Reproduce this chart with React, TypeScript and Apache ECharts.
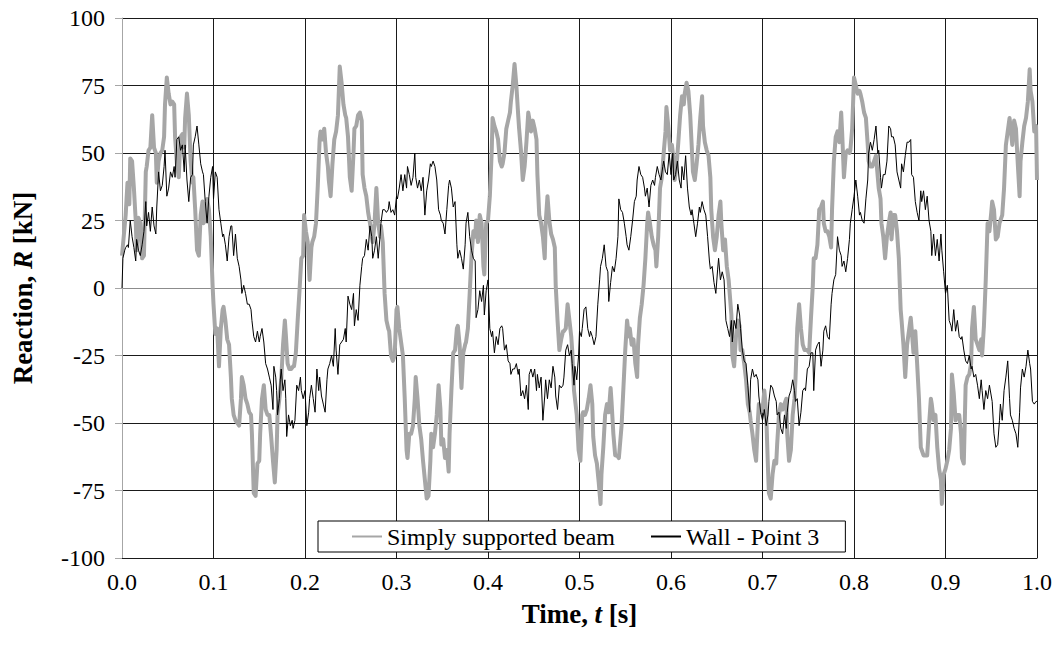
import React, { useEffect, useRef } from "react";
import * as echarts from "echarts";

const seriesNames = ["Simply supported beam", "Wall - Point 3"];
const xTicks = { min: 0, max: 1, interval: 0.1 };
const yTicks = { min: -100, max: 100, interval: 25 };

// Simply supported beam: [time (s), reaction (kN)]
const beamData: [number, number][] = [
  [0.000,12],[0.004,27],[0.006,39],[0.008,31],[0.009,48],[0.011,47],[0.013,37],[0.015,25],[0.016,14],[0.018,26],
  [0.020,24],[0.022,11],[0.024,12],[0.026,43],[0.027,45],[0.029,51],[0.031,52],[0.033,64],[0.035,52],[0.037,50],
  [0.038,39],[0.040,47],[0.042,50],[0.044,51],[0.046,56],[0.047,68],[0.049,78],[0.051,72],[0.053,68],[0.055,69],
  [0.057,68],[0.058,56],[0.060,46],[0.062,41],[0.064,56],[0.066,57],[0.068,52],[0.069,63],[0.071,72],[0.073,64],
  [0.075,47],[0.077,39],[0.078,41],[0.080,29],[0.082,14],[0.084,12],[0.086,27],[0.088,32],[0.089,24],[0.091,25],
  [0.093,33],[0.095,29],[0.097,19],[0.099,1],[0.100,-6],[0.102,-17],[0.104,-15],[0.106,-29],[0.108,-15],[0.110,-8],
  [0.111,-7],[0.113,-12],[0.115,-19],[0.117,-21],[0.119,-33],[0.120,-41],[0.122,-47],[0.124,-49],[0.126,-50],[0.128,-51],
  [0.130,-41],[0.131,-33],[0.133,-36],[0.135,-41],[0.137,-43],[0.139,-46],[0.141,-47],[0.142,-54],[0.144,-76],[0.146,-77],
  [0.148,-65],[0.150,-64],[0.151,-54],[0.153,-41],[0.155,-36],[0.157,-45],[0.159,-47],[0.161,-47],[0.163,-55],[0.165,-64],
  [0.167,-72],[0.169,-60],[0.170,-47],[0.172,-41],[0.174,-34],[0.176,-21],[0.178,-12],[0.179,-17],[0.181,-28],[0.183,-30],
  [0.185,-30],[0.187,-29],[0.188,-29],[0.190,-24],[0.192,-12],[0.194,-1],[0.196,11],[0.198,12],[0.199,27],[0.201,21],
  [0.203,17],[0.205,3],[0.207,15],[0.208,17],[0.210,19],[0.212,24],[0.214,38],[0.216,55],[0.217,58],[0.219,55],
  [0.221,59],[0.223,50],[0.225,45],[0.226,40],[0.228,34],[0.230,46],[0.232,55],[0.234,58],[0.236,64],[0.237,73],
  [0.238,82],[0.240,76],[0.242,68],[0.244,64],[0.245,63],[0.247,56],[0.249,41],[0.251,36],[0.253,50],[0.254,59],
  [0.256,60],[0.258,64],[0.260,65],[0.262,62],[0.263,42],[0.265,37],[0.267,34],[0.269,28],[0.271,24],[0.273,19],
  [0.274,17],[0.276,24],[0.278,37],[0.280,24],[0.282,19],[0.283,23],[0.285,17],[0.287,-2],[0.289,-12],[0.291,-15],
  [0.292,-16],[0.294,-25],[0.296,-27],[0.298,-25],[0.300,-8],[0.301,-7],[0.303,-15],[0.305,-20],[0.307,-25],[0.309,-41],
  [0.311,-60],[0.312,-63],[0.314,-54],[0.316,-54],[0.318,-51],[0.320,-41],[0.321,-33],[0.323,-41],[0.325,-51],[0.327,-56],
  [0.329,-64],[0.331,-71],[0.333,-78],[0.335,-77],[0.337,-64],[0.338,-54],[0.340,-59],[0.342,-54],[0.344,-47],[0.346,-36],
  [0.348,-45],[0.349,-58],[0.351,-56],[0.353,-63],[0.355,-60],[0.357,-68],[0.358,-54],[0.360,-38],[0.362,-24],[0.364,-23],
  [0.366,-15],[0.367,-14],[0.369,-21],[0.371,-37],[0.373,-24],[0.375,-21],[0.376,-20],[0.378,-15],[0.380,-2],[0.382,12],
  [0.384,21],[0.386,19],[0.387,25],[0.389,17],[0.391,27],[0.393,24],[0.395,8],[0.396,5],[0.398,24],[0.400,25],
  [0.402,34],[0.404,50],[0.405,63],[0.407,60],[0.409,58],[0.411,55],[0.413,47],[0.415,45],[0.416,46],[0.418,50],
  [0.420,59],[0.422,62],[0.424,65],[0.425,69],[0.427,75],[0.429,83],[0.431,75],[0.433,64],[0.434,59],[0.436,51],
  [0.438,40],[0.440,45],[0.442,54],[0.444,65],[0.445,63],[0.447,58],[0.449,62],[0.451,59],[0.453,55],[0.454,42],
  [0.456,27],[0.458,24],[0.460,19],[0.462,11],[0.463,24],[0.465,34],[0.467,25],[0.469,20],[0.471,18],[0.473,15],
  [0.474,1],[0.476,-12],[0.478,-23],[0.480,-19],[0.482,-16],[0.483,-16],[0.485,-15],[0.487,-6],[0.489,-12],[0.491,-18],
  [0.492,-23],[0.494,-38],[0.497,-47],[0.499,-60],[0.501,-64],[0.503,-47],[0.504,-46],[0.506,-47],[0.508,-45],[0.510,-41],
  [0.512,-36],[0.514,-43],[0.515,-55],[0.517,-62],[0.519,-65],[0.521,-72],[0.523,-80],[0.524,-69],[0.526,-59],[0.528,-47],
  [0.530,-43],[0.532,-46],[0.534,-37],[0.535,-42],[0.537,-54],[0.539,-62],[0.541,-62],[0.543,-63],[0.544,-59],[0.546,-51],
  [0.548,-37],[0.550,-23],[0.552,-12],[0.554,-18],[0.555,-15],[0.557,-21],[0.559,-19],[0.561,-28],[0.563,-33],[0.564,-21],
  [0.566,-11],[0.568,-6],[0.570,1],[0.572,11],[0.574,24],[0.575,28],[0.577,24],[0.579,19],[0.581,16],[0.583,14],
  [0.584,8],[0.586,19],[0.588,37],[0.590,41],[0.592,50],[0.594,58],[0.595,67],[0.597,60],[0.599,51],[0.601,53],
  [0.603,47],[0.604,40],[0.606,45],[0.608,54],[0.610,64],[0.612,71],[0.614,68],[0.615,72],[0.617,76],[0.619,73],
  [0.621,64],[0.623,50],[0.624,43],[0.626,40],[0.628,46],[0.630,53],[0.632,63],[0.634,71],[0.635,60],[0.637,54],
  [0.639,51],[0.641,49],[0.643,41],[0.644,29],[0.646,19],[0.648,14],[0.650,19],[0.652,27],[0.654,32],[0.655,24],
  [0.657,14],[0.659,18],[0.661,8],[0.663,3],[0.666,-10],[0.667,-25],[0.669,-29],[0.671,-18],[0.673,-12],[0.675,-14],
  [0.676,-23],[0.678,-23],[0.680,-28],[0.682,-34],[0.684,-43],[0.686,-46],[0.687,-49],[0.689,-54],[0.691,-60],[0.693,-64],
  [0.695,-49],[0.696,-43],[0.698,-46],[0.700,-45],[0.702,-38],[0.704,-46],[0.706,-67],[0.707,-76],[0.709,-78],[0.711,-69],
  [0.713,-64],[0.715,-65],[0.716,-58],[0.718,-47],[0.720,-43],[0.722,-45],[0.724,-43],[0.726,-41],[0.727,-54],[0.729,-64],
  [0.731,-60],[0.733,-47],[0.735,-41],[0.736,-34],[0.738,-15],[0.740,-6],[0.742,-15],[0.744,-21],[0.746,-23],[0.747,-23],
  [0.749,-23],[0.751,-24],[0.753,-11],[0.755,1],[0.756,11],[0.758,11],[0.760,16],[0.762,29],[0.764,30],[0.766,32],
  [0.767,24],[0.769,21],[0.771,21],[0.773,19],[0.775,15],[0.776,29],[0.778,47],[0.780,56],[0.782,58],[0.784,54],
  [0.786,65],[0.787,58],[0.789,41],[0.791,50],[0.793,51],[0.795,50],[0.796,51],[0.798,59],[0.800,78],[0.802,75],
  [0.804,72],[0.806,73],[0.807,72],[0.809,69],[0.811,65],[0.813,63],[0.815,53],[0.816,47],[0.818,45],[0.820,45],
  [0.822,47],[0.824,49],[0.825,45],[0.827,37],[0.829,33],[0.830,24],[0.832,19],[0.834,11],[0.836,19],[0.838,24],
  [0.840,28],[0.841,18],[0.843,27],[0.845,27],[0.847,21],[0.849,11],[0.851,-8],[0.852,-12],[0.854,-21],[0.856,-33],
  [0.858,-21],[0.860,-16],[0.862,-11],[0.863,-15],[0.865,-24],[0.867,-16],[0.869,-28],[0.871,-41],[0.873,-59],[0.874,-60],
  [0.876,-62],[0.878,-62],[0.880,-62],[0.882,-51],[0.884,-41],[0.885,-43],[0.887,-49],[0.889,-47],[0.891,-59],[0.893,-67],
  [0.895,-71],[0.896,-80],[0.898,-69],[0.900,-67],[0.902,-64],[0.904,-60],[0.906,-52],[0.907,-32],[0.909,-39],[0.911,-49],
  [0.913,-47],[0.915,-47],[0.917,-54],[0.918,-63],[0.920,-65],[0.922,-36],[0.924,-33],[0.926,-32],[0.928,-28],[0.929,-15],
  [0.931,-7],[0.933,-19],[0.935,-21],[0.937,-23],[0.939,-19],[0.940,-25],[0.942,-14],[0.944,3],[0.946,24],[0.948,21],
  [0.950,28],[0.951,32],[0.953,29],[0.955,18],[0.957,19],[0.959,24],[0.960,25],[0.962,27],[0.964,37],[0.966,53],
  [0.968,58],[0.970,63],[0.971,60],[0.973,53],[0.975,62],[0.977,59],[0.979,46],[0.981,34],[0.982,47],[0.984,54],
  [0.986,60],[0.988,63],[0.990,69],[0.992,81],[0.993,73],[0.995,69],[0.997,58],[0.999,60],[1.000,40],
];

// Wall - Point 3: [time (s), reaction (kN)]
const wallData: [number, number][] = [
  [0.000,0],[0.001,11],[0.003,14],[0.004,15],[0.006,16],[0.007,15],[0.009,25],[0.011,19],[0.013,15],[0.015,10],
  [0.016,18],[0.018,14],[0.020,12],[0.022,16],[0.024,21],[0.026,32],[0.027,23],[0.029,28],[0.031,21],[0.033,30],
  [0.035,23],[0.037,20],[0.038,30],[0.040,43],[0.042,36],[0.044,38],[0.046,45],[0.047,51],[0.049,34],[0.051,37],
  [0.053,43],[0.055,41],[0.057,45],[0.058,41],[0.060,55],[0.062,56],[0.064,51],[0.066,53],[0.068,43],[0.069,53],
  [0.071,40],[0.073,32],[0.075,41],[0.077,42],[0.078,53],[0.080,56],[0.082,60],[0.084,53],[0.086,46],[0.088,43],
  [0.089,42],[0.091,32],[0.093,24],[0.095,34],[0.097,41],[0.099,45],[0.100,33],[0.102,43],[0.104,41],[0.106,29],
  [0.108,24],[0.110,19],[0.111,20],[0.113,16],[0.115,10],[0.117,19],[0.119,23],[0.120,23],[0.122,12],[0.124,20],
  [0.126,11],[0.128,8],[0.130,3],[0.131,-2],[0.133,1],[0.135,-2],[0.137,-6],[0.139,-6],[0.141,-8],[0.142,-12],
  [0.144,-18],[0.146,-20],[0.148,-16],[0.150,-20],[0.151,-18],[0.153,-15],[0.155,-20],[0.157,-28],[0.159,-30],[0.161,-33],
  [0.163,-36],[0.165,-45],[0.166,-29],[0.168,-33],[0.169,-38],[0.170,-47],[0.172,-41],[0.173,-34],[0.174,-30],[0.176,-38],
  [0.178,-34],[0.179,-41],[0.180,-55],[0.182,-47],[0.184,-51],[0.186,-49],[0.187,-52],[0.189,-49],[0.191,-36],[0.193,-38],
  [0.195,-33],[0.196,-38],[0.198,-41],[0.200,-38],[0.202,-51],[0.204,-46],[0.205,-41],[0.207,-36],[0.209,-41],[0.211,-46],
  [0.213,-30],[0.215,-38],[0.216,-33],[0.218,-40],[0.220,-43],[0.222,-46],[0.224,-34],[0.225,-30],[0.227,-28],[0.229,-25],
  [0.231,-29],[0.233,-15],[0.234,-23],[0.236,-32],[0.238,-21],[0.240,-20],[0.242,-19],[0.244,-15],[0.245,-20],[0.247,-3],
  [0.249,-6],[0.251,-8],[0.253,-2],[0.254,-14],[0.256,-8],[0.258,-12],[0.260,1],[0.262,8],[0.263,11],[0.265,12],
  [0.267,18],[0.269,14],[0.271,23],[0.273,19],[0.274,11],[0.276,14],[0.278,19],[0.280,11],[0.282,19],[0.283,24],
  [0.285,29],[0.287,29],[0.289,28],[0.291,29],[0.292,32],[0.294,28],[0.296,29],[0.298,27],[0.300,34],[0.301,33],
  [0.303,37],[0.305,42],[0.307,36],[0.309,42],[0.311,37],[0.312,45],[0.314,42],[0.316,38],[0.318,41],[0.320,50],
  [0.321,41],[0.323,37],[0.325,40],[0.327,36],[0.329,41],[0.331,27],[0.333,36],[0.335,40],[0.337,46],[0.338,45],
  [0.340,47],[0.342,45],[0.344,40],[0.346,29],[0.348,27],[0.349,25],[0.351,24],[0.353,20],[0.355,29],[0.357,38],
  [0.358,40],[0.360,37],[0.362,30],[0.364,32],[0.366,16],[0.367,11],[0.369,14],[0.371,11],[0.373,7],[0.375,16],
  [0.376,24],[0.378,28],[0.380,19],[0.382,14],[0.384,11],[0.386,10],[0.387,-11],[0.389,-8],[0.391,-1],[0.393,-5],
  [0.395,1],[0.396,-10],[0.398,-1],[0.400,3],[0.402,-15],[0.404,-18],[0.405,-16],[0.407,-24],[0.409,-18],[0.411,-21],
  [0.413,-15],[0.415,-14],[0.416,-15],[0.418,-23],[0.420,-21],[0.422,-27],[0.424,-28],[0.425,-32],[0.427,-30],[0.429,-30],
  [0.431,-28],[0.433,-32],[0.434,-30],[0.436,-40],[0.438,-38],[0.440,-41],[0.442,-36],[0.444,-45],[0.445,-32],[0.447,-30],
  [0.449,-33],[0.451,-30],[0.453,-38],[0.454,-32],[0.456,-37],[0.458,-33],[0.460,-49],[0.462,-40],[0.463,-34],[0.465,-41],
  [0.467,-34],[0.469,-37],[0.471,-29],[0.473,-33],[0.474,-40],[0.476,-45],[0.478,-36],[0.480,-37],[0.482,-36],[0.483,-33],
  [0.485,-23],[0.487,-21],[0.489,-25],[0.491,-23],[0.492,-28],[0.494,-36],[0.495,-29],[0.497,-34],[0.499,-25],[0.500,-16],
  [0.502,-18],[0.503,-15],[0.505,-8],[0.507,-7],[0.509,-15],[0.511,-18],[0.512,-16],[0.514,-18],[0.516,-21],[0.518,-18],
  [0.520,-6],[0.522,3],[0.523,8],[0.525,11],[0.527,16],[0.529,8],[0.531,6],[0.532,-5],[0.534,2],[0.536,8],
  [0.538,6],[0.540,11],[0.542,19],[0.543,33],[0.545,29],[0.547,28],[0.549,24],[0.551,19],[0.552,16],[0.554,14],
  [0.556,19],[0.558,25],[0.560,32],[0.562,34],[0.563,40],[0.565,45],[0.567,42],[0.569,41],[0.571,37],[0.572,34],
  [0.574,37],[0.576,30],[0.578,38],[0.580,40],[0.582,38],[0.583,41],[0.585,45],[0.587,42],[0.589,40],[0.591,45],
  [0.592,47],[0.594,43],[0.596,42],[0.598,50],[0.600,42],[0.602,50],[0.603,40],[0.605,42],[0.607,47],[0.609,40],
  [0.611,37],[0.612,45],[0.614,40],[0.616,49],[0.618,37],[0.620,30],[0.622,27],[0.623,29],[0.625,24],[0.627,19],
  [0.629,24],[0.631,30],[0.632,28],[0.634,32],[0.636,29],[0.638,27],[0.640,19],[0.642,10],[0.643,7],[0.645,8],
  [0.647,2],[0.649,-2],[0.651,7],[0.652,11],[0.654,3],[0.656,6],[0.658,3],[0.660,-12],[0.662,-15],[0.664,-18],
  [0.666,-12],[0.667,-20],[0.669,-12],[0.671,-15],[0.673,-6],[0.675,-10],[0.676,-15],[0.678,-23],[0.680,-27],[0.682,-28],
  [0.684,-36],[0.686,-46],[0.687,-34],[0.689,-30],[0.691,-33],[0.693,-32],[0.695,-34],[0.696,-40],[0.698,-46],[0.700,-49],
  [0.702,-45],[0.704,-51],[0.706,-47],[0.707,-42],[0.709,-36],[0.711,-37],[0.713,-40],[0.715,-42],[0.716,-47],[0.718,-46],
  [0.720,-52],[0.722,-54],[0.724,-47],[0.726,-52],[0.727,-46],[0.729,-40],[0.731,-38],[0.733,-34],[0.735,-38],[0.736,-42],
  [0.738,-41],[0.740,-51],[0.742,-46],[0.744,-38],[0.746,-37],[0.747,-38],[0.749,-30],[0.751,-29],[0.753,-24],[0.755,-24],
  [0.756,-38],[0.758,-23],[0.760,-21],[0.762,-20],[0.764,-29],[0.766,-23],[0.767,-16],[0.769,-14],[0.771,-18],[0.773,-19],
  [0.775,-6],[0.776,-2],[0.778,3],[0.780,5],[0.782,19],[0.784,14],[0.786,12],[0.787,8],[0.789,10],[0.791,6],
  [0.793,11],[0.795,18],[0.796,24],[0.798,29],[0.800,34],[0.802,40],[0.804,34],[0.806,27],[0.807,28],[0.809,25],
  [0.811,24],[0.813,33],[0.815,40],[0.816,50],[0.818,54],[0.820,51],[0.822,55],[0.824,60],[0.826,50],[0.827,51],
  [0.829,41],[0.830,37],[0.832,42],[0.834,42],[0.836,47],[0.838,60],[0.840,59],[0.841,56],[0.843,56],[0.845,53],
  [0.847,43],[0.849,40],[0.851,37],[0.852,46],[0.854,43],[0.856,49],[0.858,54],[0.860,54],[0.862,55],[0.863,42],
  [0.865,41],[0.867,32],[0.869,28],[0.871,25],[0.873,36],[0.874,32],[0.876,36],[0.878,29],[0.880,34],[0.882,25],
  [0.884,21],[0.885,12],[0.887,20],[0.889,12],[0.891,18],[0.893,10],[0.895,20],[0.896,14],[0.898,6],[0.900,-2],
  [0.902,1],[0.904,-12],[0.906,-14],[0.907,-16],[0.909,-8],[0.911,-16],[0.913,-12],[0.915,-18],[0.917,-19],[0.918,-18],
  [0.920,-23],[0.922,-27],[0.924,-28],[0.926,-25],[0.928,-30],[0.929,-29],[0.931,-33],[0.933,-32],[0.935,-36],[0.937,-41],
  [0.939,-34],[0.940,-38],[0.942,-45],[0.944,-38],[0.946,-41],[0.948,-36],[0.950,-40],[0.951,-42],[0.953,-54],[0.955,-59],
  [0.957,-58],[0.959,-49],[0.960,-43],[0.962,-49],[0.964,-38],[0.966,-33],[0.968,-27],[0.970,-41],[0.971,-47],[0.973,-49],
  [0.975,-52],[0.977,-54],[0.979,-59],[0.981,-46],[0.982,-37],[0.984,-30],[0.986,-33],[0.988,-29],[0.990,-23],[0.992,-28],
  [0.993,-30],[0.995,-42],[0.997,-43],[0.999,-42],[1.000,-42],
];

const FONT = "Liberation Serif";

export default function App() {
  const ref = useRef<HTMLDivElement>(null);

  useEffect(() => {
    if (!ref.current) return;
    const chart = echarts.init(ref.current, undefined, { renderer: "svg" });

    const ySplitColors: string[] = [];
    for (let v = yTicks.min; v <= yTicks.max; v += yTicks.interval) {
      ySplitColors.push(v === 0 ? "#8c8c8c" : "#1a1a1a");
    }
    const xSplitColors: string[] = [];
    for (let i = 0; i <= 10; i++) xSplitColors.push(i === 0 ? "#a6a6a6" : "#1a1a1a");

    const plain = { fontFamily: FONT, fontSize: 24, fontWeight: "normal", color: "#000" };

    const titleStyle = {
      fontFamily: FONT,
      fontSize: 27,
      fontWeight: "bold",
      color: "#000",
      rich: {
        b: { fontFamily: FONT, fontSize: 27, fontWeight: "bold", color: "#000" },
        i: { fontFamily: FONT, fontSize: 27, fontWeight: "bold", fontStyle: "italic", color: "#000" },
      },
    };

    chart.setOption({
      animation: false,
      backgroundColor: "#ffffff",
      textStyle: { fontFamily: FONT },
      grid: { left: 122, right: 22, top: 18, bottom: 93, containLabel: false },
      legend: {
        data: seriesNames,
        left: 318,
        top: 521,
        orient: "horizontal",
        backgroundColor: "#ffffff",
        borderColor: "#000000",
        borderWidth: 1,
        borderRadius: 0,
        padding: [3, 26, 3, 33],
        itemGap: 35,
        itemWidth: 30,
        itemHeight: 14,
        itemStyle: { opacity: 0 },
        formatter: (name: string) => `{n|${name}}`,
        textStyle: { ...plain, lineHeight: 25, rich: { n: { ...plain, lineHeight: 25 } } },
      },
      xAxis: {
        type: "value",
        min: xTicks.min,
        max: xTicks.max,
        interval: xTicks.interval,
        position: "bottom",
        axisLine: { show: true, onZero: false, lineStyle: { color: "#1a1a1a", width: 1 } },
        axisTick: { show: false },
        axisLabel: {
          ...plain,
          margin: 12,
          formatter: (v: number) => `{n|${v.toFixed(1)}}`,
          rich: { n: { ...plain } },
        },
        splitLine: { show: true, lineStyle: { color: xSplitColors, width: 1 } },
        name: "{b|Time, }{i|t}{b| [s]}",
        nameLocation: "middle",
        nameGap: 42,
        nameTextStyle: titleStyle,
      },
      yAxis: {
        type: "value",
        min: yTicks.min,
        max: yTicks.max,
        interval: yTicks.interval,
        axisLine: { show: true, onZero: false, lineStyle: { color: "#a6a6a6", width: 1 } },
        axisTick: { show: true, inside: false, length: 7, lineStyle: { color: "#a6a6a6" } },
        axisLabel: {
          ...plain,
          margin: 17,
          formatter: (v: number) => `{n|${v}}`,
          rich: { n: { ...plain } },
        },
        splitLine: { show: true, lineStyle: { color: ySplitColors, width: 1 } },
        name: "{b|Reaction, }{i|R}{b| [kN]}",
        nameLocation: "middle",
        nameGap: 86,
        nameRotate: 90,
        nameTextStyle: titleStyle,
      },
      series: [
        {
          name: seriesNames[0],
          type: "line",
          data: beamData,
          showSymbol: false,
          symbol: "none",
          lineStyle: { color: "#a6a6a6", width: 4, join: "round" },
          itemStyle: { color: "#a6a6a6" },
          z: 2,
        },
        {
          name: seriesNames[1],
          type: "line",
          data: wallData,
          showSymbol: false,
          symbol: "none",
          lineStyle: { color: "#000000", width: 1 },
          itemStyle: { color: "#000000" },
          z: 3,
        },
      ],
    });

    return () => chart.dispose();
  }, []);

  return (
    <div
      ref={ref}
      style={{ position: "absolute", left: 0, top: 0, width: 1059, height: 651, background: "#fff" }}
    />
  );
}
